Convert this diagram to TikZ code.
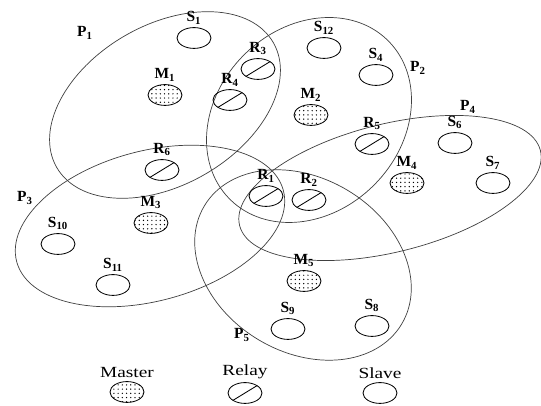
\documentclass[tikz,border=0pt]{standalone}
\usepackage{fontspec}
\setmainfont{Liberation Serif}
\usetikzlibrary{shapes,positioning,patterns}
\tikzset{dev/.style={ellipse,draw,minimum width=0.85cm,minimum height=0.52cm,inner sep=0pt,line width=0.6pt}}
\tikzset{master/.style={dev,pattern=dots},
         relay/.style={dev,path picture={\draw (path picture bounding box.south west) -- (path picture bounding box.north east);}},
         slave/.style={dev},
         tag/.style={font=\bfseries\fontsize{11}{12}\selectfont,inner sep=1pt},
         keytext/.style={font=\fontsize{11}{12}\selectfont,inner sep=1pt,transform shape,xscale=1.25},
         area/.style={draw=black!75,line width=0.5pt}}

\begin{document}
\begin{tikzpicture}[x=0.025cm,y=0.025cm]
    \useasboundingbox (0,0) rectangle (541,406);

    % piconets
    \draw[area,rotate around={30:(165,301)}] (165,301) ellipse [x radius=125,y radius=80];
    \draw[area,rotate around={45:(309,286)}] (309,286) ellipse [x radius=112,y radius=92];
    \draw[area,rotate around={15:(150,180)}] (150,180) ellipse [x radius=138,y radius=75];
    \draw[area,rotate around={14:(390,218)}] (390,218) ellipse [x radius=155,y radius=64];
    \draw[area,rotate around={-31:(303,141)}] (303,141) ellipse [x radius=115,y radius=87];

    \node[tag] (p1) at (85,373) {P\textsubscript{1}};
    \node[tag] (p2) at (418,338) {P\textsubscript{2}};
    \node[tag] (p3) at (25,208) {P\textsubscript{3}};
    \node[tag] (p4) at (468,299) {P\textsubscript{4}};
    \node[tag] (p5) at (242,71) {P\textsubscript{5}};

    % devices
    \node[master] (m1) at (165,311) {};
    \node[master] (m2) at (311,291) {};
    \node[master] (m3) at (151,183) {};
    \node[master] (m4) at (407,223) {};
    \node[master] (m5) at (304,125) {};

    \node[relay] (r1) at (266,210) {};
    \node[relay] (r2) at (309,206) {};
    \node[relay] (r3) at (258,337) {};
    \node[relay] (r4) at (230,306) {};
    \node[relay] (r5) at (372,262) {};
    \node[relay] (r6) at (162,236) {};

    \node[slave] (s1) at (194,368) {};
    \node[slave] (s4) at (376,331) {};
    \node[slave] (s6) at (455,263) {};
    \node[slave] (s7) at (493,223) {};
    \node[slave] (s8) at (372,80) {};
    \node[slave] (s9) at (288,77) {};
    \node[slave] (s10) at (58,162) {};
    \node[slave] (s11) at (113,121) {};
    \node[slave] (s12) at (324,358) {};

    \node[tag,above=1pt of m1] (m1-tag) {M\textsubscript{1}};
    \node[tag,above=1pt of m2] (m2-tag) {M\textsubscript{2}};
    \node[tag,above=1pt of m3] (m3-tag) {M\textsubscript{3}};
    \node[tag,above=1pt of m4] (m4-tag) {M\textsubscript{4}};
    \node[tag,above=1pt of m5] (m5-tag) {M\textsubscript{5}};
    \node[tag,above=1pt of r1] (r1-tag) {R\textsubscript{1}};
    \node[tag,above=1pt of r2] (r2-tag) {R\textsubscript{2}};
    \node[tag,above=1pt of r3] (r3-tag) {R\textsubscript{3}};
    \node[tag,above=1pt of r4] (r4-tag) {R\textsubscript{4}};
    \node[tag,above=1pt of r5] (r5-tag) {R\textsubscript{5}};
    \node[tag,above=1pt of r6] (r6-tag) {R\textsubscript{6}};
    \node[tag,above=1pt of s1] (s1-tag) {S\textsubscript{1}};
    \node[tag,above=1pt of s4] (s4-tag) {S\textsubscript{4}};
    \node[tag,above=1pt of s6] (s6-tag) {S\textsubscript{6}};
    \node[tag,above=1pt of s7] (s7-tag) {S\textsubscript{7}};
    \node[tag,above=1pt of s8] (s8-tag) {S\textsubscript{8}};
    \node[tag,above=1pt of s9] (s9-tag) {S\textsubscript{9}};
    \node[tag,above=1pt of s10] (s10-tag) {S\textsubscript{10}};
    \node[tag,above=1pt of s11] (s11-tag) {S\textsubscript{11}};
    \node[tag,above=1pt of s12] (s12-tag) {S\textsubscript{12}};

    % legend
    \node[master] (key-m) at (127,14) {};
    \node[relay] (key-r) at (245,13) {};
    \node[slave] (key-s) at (380,13) {};
    \node[keytext,above=1pt of key-m] (key-m-text) {Master};
    \node[keytext,above=1pt of key-r] (key-r-text) {Relay};
    \node[keytext,above=1pt of key-s] (key-s-text) {Slave};
\end{tikzpicture}
\end{document}
